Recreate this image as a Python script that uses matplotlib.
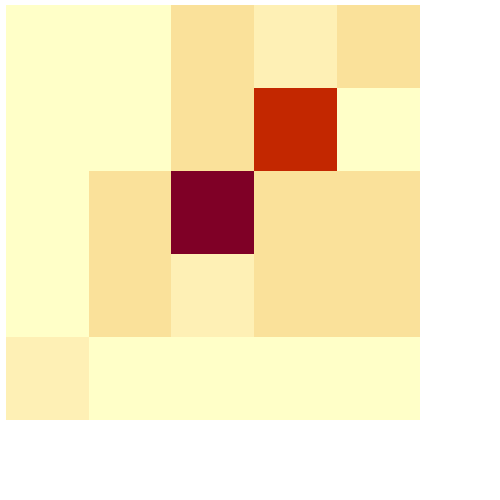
import numpy as np
import matplotlib
matplotlib.use("Agg")
import matplotlib.pyplot as plt
from matplotlib.colors import LinearSegmentedColormap

# cell values (rows top to bottom)
row0 = [0, 0, 2, 1, 2]
row1 = [0, 0, 2, 11, 0]
row2 = [0, 2, 13, 2, 2]
row3 = [0, 2, 1, 2, 2]
row4 = [1, 0, 0, 0, 0]

def main():
    data = np.array([row0, row1, row2, row3, row4])
    vmax = data.max()

    # yellow -> orange -> red -> maroon, tuned to the reference tones
    cmap = LinearSegmentedColormap.from_list('ylorrd_soft', [
        (0.0, '#ffffc8'),
        (1 / vmax, '#fef0b5'),
        (2 / vmax, '#fae19a'),
        (0.5, '#f08c3a'),
        (11 / vmax, '#c42800'),
        (1.0, '#7f0026'),
    ])

    fig = plt.figure(figsize=(5, 5), dpi=100)
    ax = fig.add_axes([0.012, 0.16, 0.828, 0.83])
    ax.imshow(data, cmap=cmap, aspect='auto', interpolation='nearest',
              vmin=0, vmax=vmax)
    ax.axis('off')

    fig.savefig('out.png', dpi=100)

if __name__ == "__main__":
    main()
